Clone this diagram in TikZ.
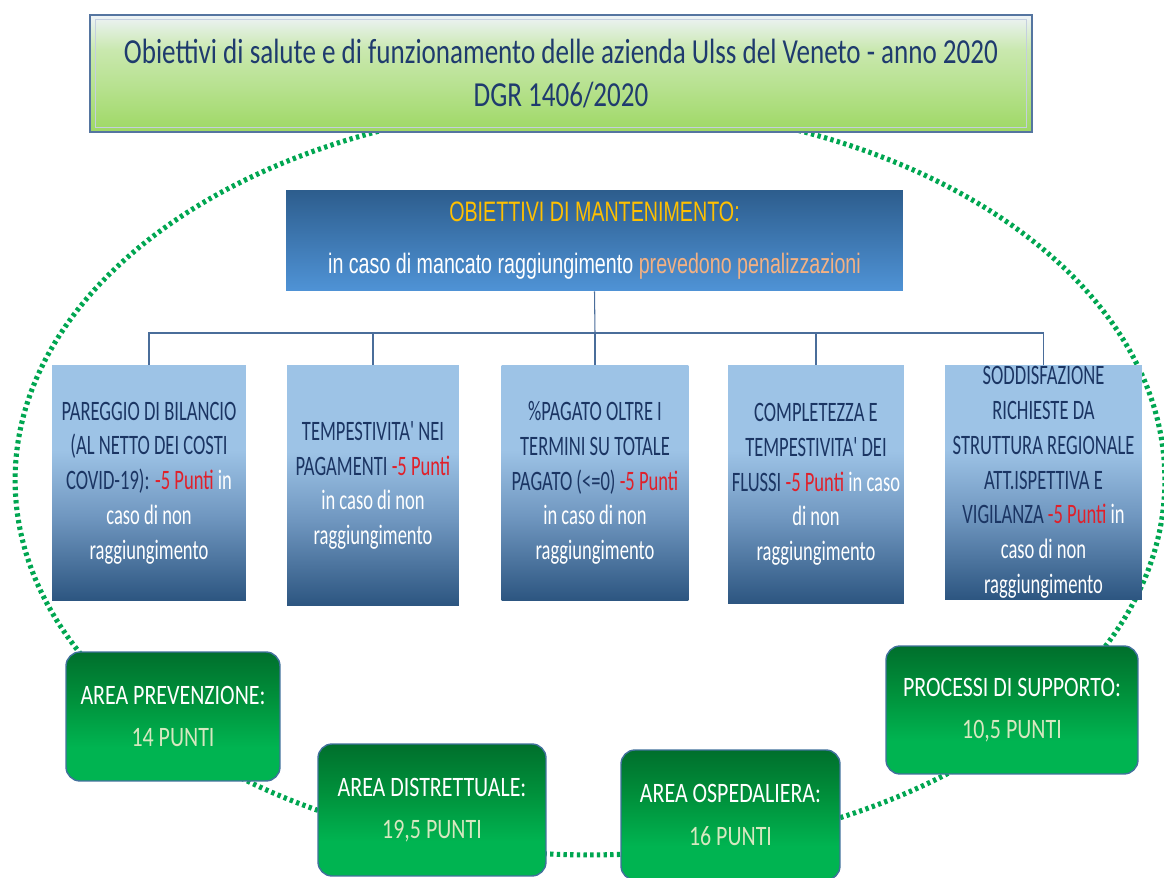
\documentclass[tikz,border=0pt]{standalone}
\usepackage{fontspec}
\setmainfont{Carlito}
\newfontfamily\titlefont{Carlito}[FakeStretch=0.77]
\newfontfamily\areafont{Carlito}[FakeStretch=0.78]
\newfontfamily\boxfont{Carlito}[FakeStretch=0.66]
\newfontfamily\narrowfont{Liberation Sans}[FakeStretch=0.7]
\usetikzlibrary{calc}

\definecolor{titletext}{HTML}{1F3B6E}
\definecolor{titleedge}{HTML}{5575A0}
\definecolor{titletop}{HTML}{EEF3F8}
\definecolor{titlemid}{HTML}{C9E8AE}
\definecolor{titlebot}{HTML}{9ED864}
\definecolor{maintop}{HTML}{2D5D8D}
\definecolor{mainbot}{HTML}{4F93D6}
\definecolor{mainhead}{HTML}{FFC000}
\definecolor{mainpen}{HTML}{F4B183}
\definecolor{objlight}{HTML}{9DC3E6}
\definecolor{objmid}{HTML}{7097C0}
\definecolor{objdark}{HTML}{2C5580}
\definecolor{objnavy}{HTML}{1B3563}
\definecolor{penred}{HTML}{E0202A}
\definecolor{busline}{HTML}{4A6D9A}
\definecolor{areatop}{HTML}{006F2C}
\definecolor{areamid}{HTML}{00923C}
\definecolor{areabot}{HTML}{00B451}
\definecolor{areaedge}{HTML}{41719C}
\definecolor{areapts}{HTML}{D6E8C0}
\definecolor{ringdots}{HTML}{00A651}

\pgfdeclareverticalshading{titleshade}{100bp}{color(0bp)=(titlebot); color(25bp)=(titlebot);
  color(45bp)=(titlemid!60!titlebot); color(60bp)=(titlemid); color(75bp)=(titletop); color(100bp)=(titletop)}
\pgfdeclareverticalshading{objshade}{100bp}{color(0bp)=(objdark); color(25bp)=(objdark);
  color(43bp)=(objmid); color(57bp)=(objlight); color(100bp)=(objlight)}
\pgfdeclareverticalshading{areashade}{100bp}{color(0bp)=(areabot); color(38bp)=(areabot);
  color(56bp)=(areamid); color(75bp)=(areatop); color(100bp)=(areatop)}

\newcommand{\pen}{\textcolor{penred}{-5 Punti}}
\newcommand{\wh}[1]{\textcolor{white}{#1}}

\begin{document}
\begin{tikzpicture}[x = 0.02cm, y = -0.02cm,
  objbox/.style = {shading = objshade, inner sep = 0pt, align = center, text = objnavy,
    font = \boxfont\fontsize{16}{19.8}\selectfont},
  areabox/.style = {shading = areashade, draw = areaedge, line width = 0.8pt,
    rounded corners = 0.28cm, inner sep = 0pt, align = center, text = white,
    font = \areafont\fontsize{16}{24}\selectfont}]
\fill[white] (0,0) rectangle (1164,878);
\useasboundingbox (0,0) rectangle (1164,878);

%% dotted ring behind everything
\draw[ringdots, line width = 2.9pt, dash pattern = on 1.9pt off 1.9pt]
  (590,480) ellipse [x radius = 11.5cm, y radius = 7.5cm];

%% title
\node (title) at (561,73.5) [shading = titleshade, draw = titleedge, line width = 1.2pt,
  minimum width = 18.84cm, minimum height = 2.34cm, inner sep = 0pt, align = center,
  text = titletext, font = \titlefont\fontsize{20}{24.5}\selectfont]
  {Obiettivi di salute e di funzionamento delle azienda Ulss del Veneto - anno 2020\\DGR 1406/2020};
\draw[titleedge!35, line width = 0.6pt] ($(title.north west)+(0.12cm,-0.12cm)$)
  rectangle ($(title.south east)+(-0.12cm,0.12cm)$);

%% main box
\node (main) at (594.5,240.5) [top color = maintop, bottom color = mainbot,
  minimum width = 12.34cm, minimum height = 2.02cm, inner sep = 0pt, align = center,
  text = white, font = \narrowfont\fontsize{16}{20}\selectfont]
  {\textcolor{mainhead}{OBIETTIVI DI MANTENIMENTO:}\\[10pt]
   in caso di mancato raggiungimento \textcolor{mainpen}{prevedono penalizzazioni}};

%% the five objectives
\node (bil) at (149,483) [objbox, minimum width = 3.88cm, minimum height = 4.72cm]
  {PAREGGIO DI BILANCIO\\(AL NETTO DEI COSTI\\COVID-19): \pen\ \wh{in}\\\wh{caso di non}\\\wh{raggiungimento}};
\node (tem) at (373,485.5) [objbox, minimum width = 3.44cm, minimum height = 4.82cm]
  {TEMPESTIVITA' NEI\\PAGAMENTI \pen\\\wh{in caso di non}\\\wh{raggiungimento}};
\node (pag) at (595,483) [objbox, minimum width = 3.74cm, minimum height = 4.72cm]
  {\%PAGATO OLTRE I\\TERMINI SU TOTALE\\PAGATO (<=0) \pen\\\wh{in caso di non}\\\wh{raggiungimento}};
\node (flu) at (816,484.5) [objbox, minimum width = 3.52cm, minimum height = 4.78cm]
  {COMPLETEZZA E\\TEMPESTIVITA' DEI\\FLUSSI \pen\ \wh{in caso}\\\wh{di non}\\\wh{raggiungimento}};
\node (vig) at (1043.5,482.5) [objbox, minimum width = 3.94cm, minimum height = 4.7cm]
  {SODDISFAZIONE\\RICHIESTE DA\\STRUTTURA REGIONALE\\ATT.ISPETTIVA E\\VIGILANZA \pen\ \wh{in}\\\wh{caso di non}\\\wh{raggiungimento}};

\coordinate (bus) at (595,333);
\draw[busline, line width = 0.6pt] (main.south) -- (bus);
\foreach \b in {bil,tem,pag,flu,vig}{
  \draw[busline, line width = 0.6pt] (bus) -| (\b.north);
}

%% areas on the ring
\node (prev) at (173,716.5) [areabox, minimum width = 4.28cm, minimum height = 2.58cm]
  {AREA PREVENZIONE:\\\textcolor{areapts}{14 PUNTI}};
\node (dist) at (432,810) [areabox, minimum width = 4.56cm, minimum height = 2.64cm]
  {AREA DISTRETTUALE:\\\textcolor{areapts}{19,5 PUNTI}};
\node (osp) at (730.5,815) [areabox, minimum width = 4.38cm, minimum height = 2.6cm]
  {AREA OSPEDALIERA:\\\textcolor{areapts}{16 PUNTI}};
\node (supp) at (1012,710) [areabox, minimum width = 5.04cm, minimum height = 2.56cm]
  {PROCESSI DI SUPPORTO:\\\textcolor{areapts}{10,5 PUNTI}};
\end{tikzpicture}
\end{document}
